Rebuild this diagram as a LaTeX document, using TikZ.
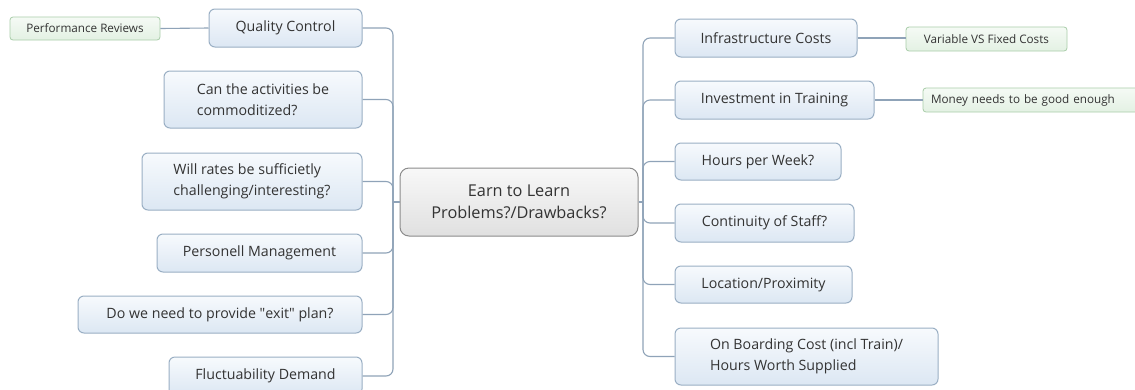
\documentclass[tikz,border=0pt]{standalone}
\usepackage{fontspec}
\setmainfont{Open Sans}
\definecolor{txt}{HTML}{333333}
\definecolor{tbord}{HTML}{9AAFC4}
\definecolor{ttop}{HTML}{F7FAFD}
\definecolor{tbot}{HTML}{DCE7F3}
\definecolor{cbord}{HTML}{8C8C8C}
\definecolor{ctop}{HTML}{F8F8F8}
\definecolor{cbot}{HTML}{E0E0E0}
\definecolor{gbord}{HTML}{A9CDA9}
\definecolor{gtop}{HTML}{F5FAF5}
\definecolor{gbot}{HTML}{E3F1E3}
\definecolor{lnk}{HTML}{8FA3B8}
\begin{document}
\begin{tikzpicture}[x=1pt,y=-1pt,
  box/.style={draw=tbord,line width=1pt,rounded corners=6pt,top color=ttop,bottom color=tbot,
    text=txt,font=\fontsize{14.2}{21.5}\selectfont,align=left,inner sep=0pt},
  subbox/.style={draw=gbord,line width=0.8pt,rounded corners=3pt,top color=gtop,bottom color=gbot,
    text=txt,font=\fontsize{11.7}{14}\selectfont,inner sep=0pt},
  central/.style={draw=cbord,line width=1pt,rounded corners=9pt,top color=ctop,bottom color=cbot,
    text=txt,font=\fontsize{16.3}{22}\selectfont,align=center,inner sep=0pt},
  link/.style={draw=lnk,line width=1.1pt,rounded corners=7pt},
]
\clip (0,0) rectangle (1135,389);
\fill[white] (0,0) rectangle (1135,389);
% central
\node[central,minimum width=238pt,minimum height=68pt] (c) at (519,202) {Earn to Learn\\Problems?/Drawbacks?};
% left
\node[box,minimum width=153pt,minimum height=38pt] (qc) at (285.5,28) {Quality Control};
\node[subbox,minimum width=150pt,minimum height=23pt] (pr) at (85,28.5) {Performance Reviews};
\node[box,minimum width=198pt,minimum height=57pt] (can) at (263,99.5) {Can the activities be\\commoditized?};
\node[box,minimum width=220pt,minimum height=57pt] (will) at (252,181.5) {Will rates be sufficietly\\challenging/interesting?};
\node[box,minimum width=205pt,minimum height=38pt] (pers) at (259.5,253) {Personell Management};
\node[box,minimum width=284pt,minimum height=37pt] (exit) at (220,314.5) {Do we need to provide \textquotedbl exit\textquotedbl\ plan?};
\node[box,minimum width=193pt,minimum height=38pt] (fluct) at (265.5,376) {Fluctuability Demand};
% right
\node[box,minimum width=182pt,minimum height=38pt] (infra) at (766,38) {Infrastructure Costs};
\node[subbox,minimum width=161pt,minimum height=24pt] (var) at (986.5,39) {Variable VS Fixed Costs};
\node[box,minimum width=199pt,minimum height=38pt] (inv) at (774.5,100) {Investment in Training};
\node[subbox,minimum width=217pt,minimum height=24pt,text width=201pt,align=left] (money) at (1031.5,100) {Money needs to be good enough};
\node[box,minimum width=166pt,minimum height=37pt] (hours) at (758,161.5) {Hours per Week?};
\node[box,minimum width=179pt,minimum height=38pt] (cont) at (764.5,223) {Continuity of Staff?};
\node[box,minimum width=177pt,minimum height=37pt] (loc) at (763.5,284.5) {Location/Proximity};
\node[box,minimum width=263pt,minimum height=57pt] (onb) at (806.5,356.5) {On Boarding Cost (incl Train)/\\Hours Worth Supplied};
% trunks
\coordinate (lt) at (393,202);
\coordinate (rt) at (643,202);
\draw[link] (c.west) -- (lt);
\draw[link] (c.east) -- (rt);
\foreach \n in {qc,can,will,pers,exit,fluct}{
  \draw[link] (lt) |- (\n.east);
}
\foreach \n in {infra,inv,hours,cont,loc,onb}{
  \draw[link] (rt) |- (\n.west);
}
\draw[link] (pr.east) -- (qc.west);
\draw[link] (infra.east) -- (var.west |- infra.east);
\draw[link] (inv.east) -- (money.west);
\end{tikzpicture}
\end{document}
